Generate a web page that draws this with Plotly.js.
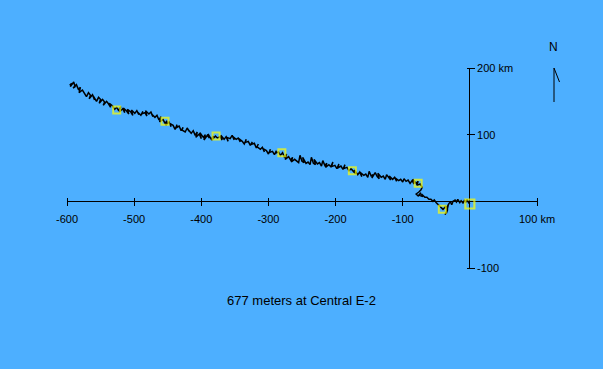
<!DOCTYPE html>
<html>
<head>
<meta charset="utf-8">
<script src="https://cdn.plot.ly/plotly-3.0.1.min.js"></script>
<style>html,body{margin:0;padding:0;background:#4DAFFF;}#chart{width:603px;height:369px;}</style>
</head>
<body>
<div id="chart"></div>
<script>
// Track (km east / km north of Central E-2)
const trackX = [
-596,-593,-595,-590,-588,-591,-586,-583,-580,-582,-577,-574,-576,-571,-568,-565,-567,-562,-559,-561,-556,-553,-550,-552,-547,-544,-546,-541,-538,-535,-537,-532,-529,-526,
-523,-520,-522,-517,-514,-516,-511,-508,-510,-505,-502,-504,-499,-496,-493,-495,-490,-487,-489,-484,-481,-483,-478,-475,-472,-474,-469,-466,
-463,-460,-462,-457,-454,-451,-453,-448,-445,-447,-442,-439,-436,-438,-433,-430,-427,-429,-424,-421,-418,-420,-415,-412,
-409,-406,-408,-403,-400,-402,-397,-394,-396,-391,-388,-390,-385,-382,-384,-379,-376,
-372,-369,-371,-366,-363,-360,-362,-357,-354,-351,-353,-348,-345,-342,-344,-339,-336,-333,-335,-330,-327,-324,-326,-321,-318,-315,-317,-312,
-309,-306,-308,-303,-300,-297,-299,-294,-291,-288,-290,-285,-282,-279,
-276,-273,-275,-270,-267,-264,-266,-261,-258,-255,-253,-250,-247,-249,-244,-241,-238,-236,-233,-230,-232,-227,-224,-221,-219,-216,-213,-215,-210,-207,-204,-206,-201,-198,-195,-197,-192,-189,-186,-188,-183,-180,-177,
-173,-170,-172,-167,-164,-161,-163,-158,-155,-152,-150,-147,-144,-146,-141,-138,-135,-137,-132,-129,-126,-124,-121,-118,-120,-115,-112,-109,-111,-106,-103,-100,-98,-95,-92,-89,
-86,-83,-85,-80,-77,-79,-74,-71,-73,-76,-80,-77,-73,-75,-70,-72,-67,-64,-61,-58,-55,-53,-50,-48,-46,-43,-40,-38,-36,-34,-37,-33,-35,-32,-34,-31,-29,-27,-25,-22,-20,-18,-15,-13,-10,-8,-6,-4,-2,0
];
const trackY = [
174,177,172,179,172,170,175,168,171,163,167,161,165,157,163,159,154,160,152,158,150,156,153,147,153,149,144,150,146,141,147,143,138,141,
136,142,134,139,133,140,135,131,138,134,129,137,132,136,130,134,129,135,131,133,128,136,131,134,127,131,126,129,
122,127,119,123,117,121,114,119,112,117,114,108,115,110,113,106,111,107,104,110,105,108,102,106,
99,104,96,101,94,103,96,100,92,99,95,101,93,98,92,98,95,
97,92,99,93,97,90,96,94,99,92,97,93,95,89,94,90,86,93,88,90,84,89,85,87,80,86,82,78,
81,74,79,76,71,78,73,75,70,76,72,74,69,73,
66,71,63,67,62,66,59,63,60,58,69,60,58,66,57,59,55,66,57,55,63,56,58,53,61,54,57,51,55,52,59,52,54,49,56,50,53,48,55,49,51,46,49,
44,41,47,40,44,37,43,39,41,36,45,38,40,35,43,37,34,42,36,38,33,40,35,32,38,33,36,30,35,31,33,29,34,30,32,27,
31,26,33,27,30,24,26,21,17,14,11,8,13,9,7,11,6,6,3,3,0,2,-2,-4,-6,-8,-12,-10,-7,-15,-20,-12,-18,-5,-9,-3,-1,-5,0,2,-1,3,-2,1,-3,2,-1,3,-2,-4
];
// Daily position markers
const markX = [-526,-454,-378,-280,-175,-77,-41,0];
const markY = [137,120,98,73,46,27,-12,-4];

// Axis ticks
const xTickVals = [-600,-500,-400,-300,-200,-100,100];
const xTickText = ["-600","-500","-400","-300","-200","-100","100 km"];
const yTickVals = [-100,100,200];
const yTickText = ["-100","100","200 km"];
const titleText = "677 meters at Central E-2";

const bg = "#4DAFFF";
const font = {family:"Arial, 'Liberation Sans', sans-serif", size:11, color:"#000"};

const traces = [
  {x:trackX, y:trackY, type:"scatter", mode:"lines", line:{color:"#000", width:1.5}, hoverinfo:"skip"},
  {x:markX, y:markY, type:"scatter", mode:"markers",
   marker:{symbol:"square-open", color:"#FFFF00", size:[7,7,7,7,7,7,7,9], line:{color:"#FFFF00", width:[2,2,2,2,2,2,2,2.2]}}, hoverinfo:"skip"}
];

// Axis lines are the zero lines; tick axes are shifted by half the tick length so ticks cross the lines
const halfTick = 4;
const layout = {
  width:603, height:369,
  margin:{l:67, r:66, t:68, b:101},
  paper_bgcolor:bg, plot_bgcolor:bg,
  showlegend:false,
  font:font,
  title:{text:titleText, x:0.5, xref:"container", y:1-300/369, yref:"container", yanchor:"middle", font:{family:font.family, size:13, color:"#000"}},
  xaxis:{range:[-600,100], domain:[0,1], anchor:"free", position:1/3 + halfTick/200, showline:false, showgrid:false,
    zeroline:true, zerolinecolor:"#000", zerolinewidth:1, fixedrange:true,
    ticks:"outside", ticklen:2*halfTick, tickwidth:1, tickcolor:"#000", tickvals:xTickVals, ticktext:xTickText, tickfont:font, ticklabelstandoff:3},
  yaxis:{range:[-100,200], domain:[0,1], anchor:"free", position:6/7 - halfTick/470, side:"right", showline:false, showgrid:false,
    zeroline:true, zerolinecolor:"#000", zerolinewidth:1, fixedrange:true,
    ticks:"outside", ticklen:2*halfTick, tickwidth:1, tickcolor:"#000", tickvals:yTickVals, ticktext:yTickText, tickfont:font},
  annotations:[
    {text:"N", xref:"paper", yref:"paper", x:(553-67)/470, y:(268-47)/200, showarrow:false, xanchor:"center", yanchor:"middle", font:{family:font.family, size:12, color:"#000"}}
  ],
  shapes:[
    {type:"line", xref:"paper", yref:"paper", x0:(554-67)/470, y0:(268-68)/200, x1:(554-67)/470, y1:(268-102)/200, line:{color:"#000", width:1}},
    {type:"line", xref:"paper", yref:"paper", x0:(554-67)/470, y0:(268-68)/200, x1:(559.5-67)/470, y1:(268-82)/200, line:{color:"#000", width:1}}
  ]
};
Plotly.newPlot("chart", traces, layout, {staticPlot:true, displayModeBar:false});
</script>
</body>
</html>
